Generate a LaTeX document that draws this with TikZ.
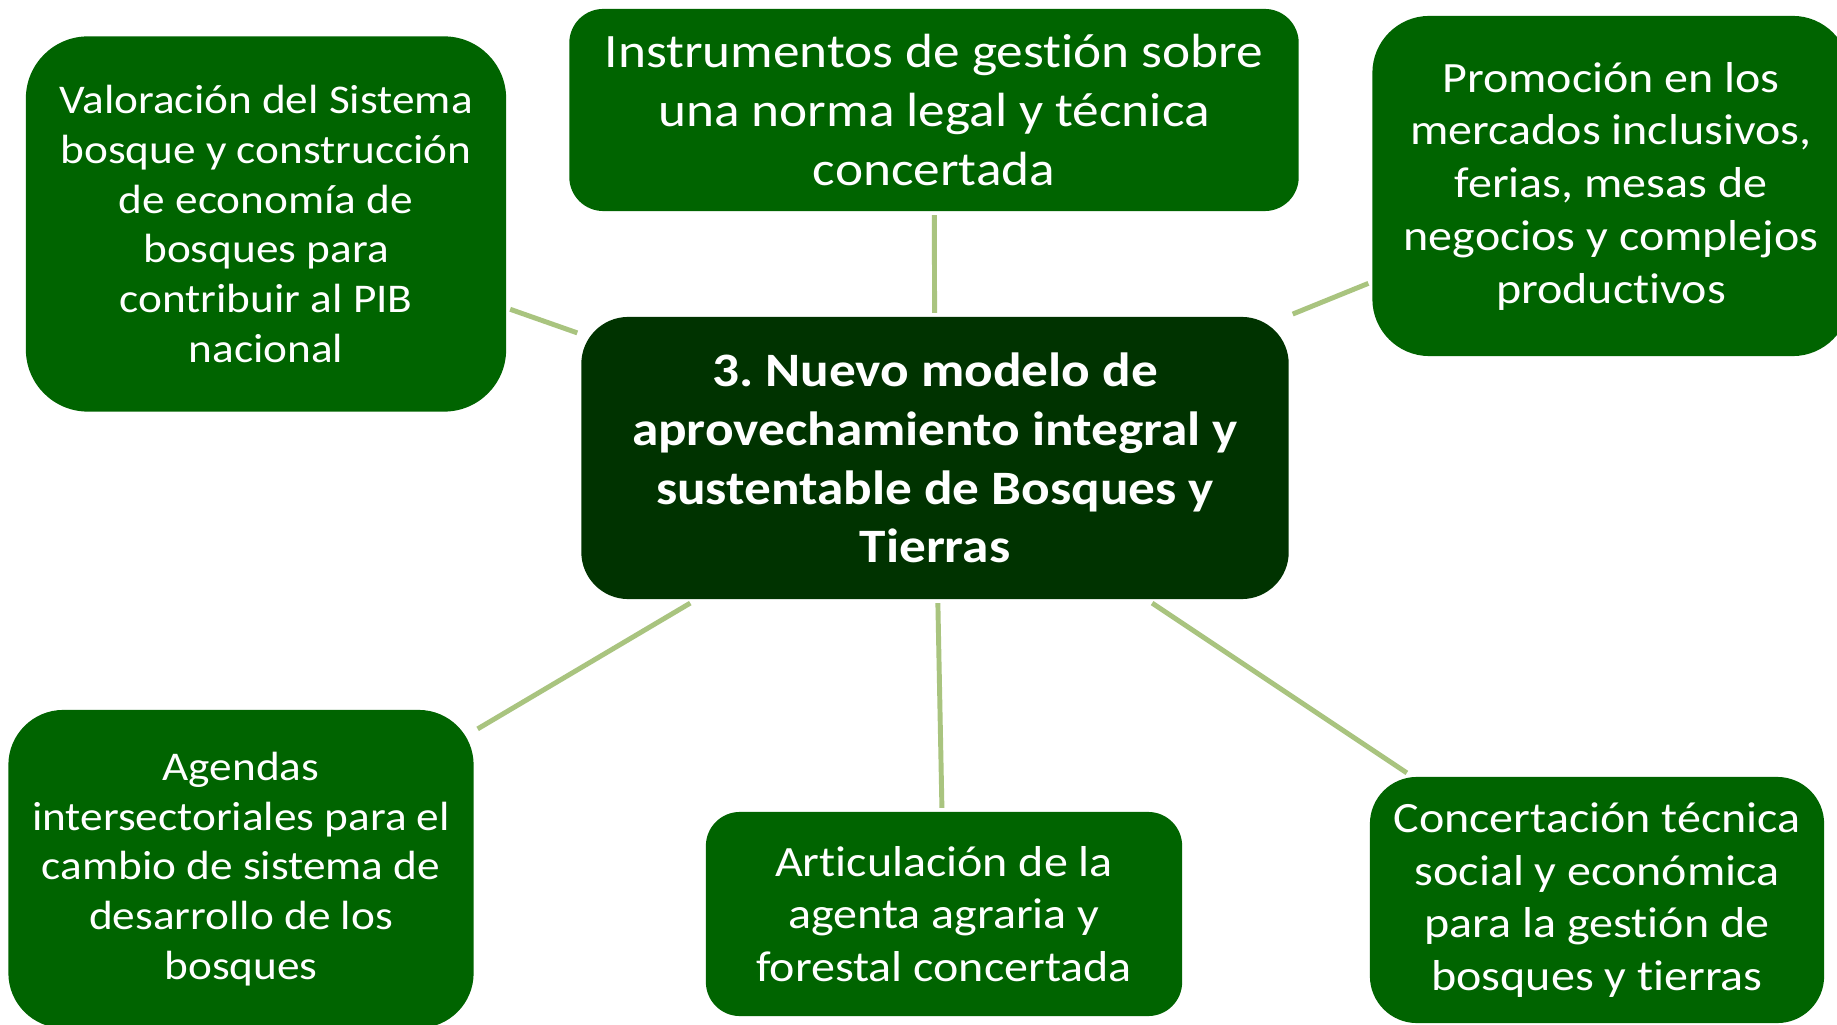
\documentclass[tikz,border=0pt]{standalone}
\usepackage{fontspec}
\setmainfont{Carlito}[FakeStretch=1.11, Ligatures=NoCommon]
\usepackage{xcolor}
\usetikzlibrary{positioning}
\definecolor{leafgreen}{RGB}{0,100,0}
\definecolor{darkleaf}{RGB}{0,51,0}
\definecolor{twig}{RGB}{169,196,127}
\frenchspacing

\begin{document}
\begin{tikzpicture}[
    x=0.01cm, y=-0.01cm,
    idea/.style={rectangle, rounded corners=0.55cm, fill=leafgreen, text=white, align=center, inner sep=0pt, outer sep=0.04cm},
    core/.style={idea, fill=darkleaf, rounded corners=0.47cm, font=\fontsize{13.65}{16.7}\selectfont\bfseries},
    small/.style={font=\fontsize{11.6}{14.15}\selectfont},
    medium/.style={font=\fontsize{12.3}{15}\selectfont},
    large/.style={font=\fontsize{13.65}{16.7}\selectfont},
    link/.style={draw=twig, line width=1.4pt}
]
    \useasboundingbox[fill=white] (0,0) rectangle (1837,1025);
    \clip (0,0) rectangle (1837,1025);

    % Central idea
    \node[core, minimum width=7.07cm, minimum height=2.82cm] (hub) at (935,458)
        {3. Nuevo modelo de\\aprovechamiento integral y\\sustentable de Bosques y\\Tierras};

    % Surrounding ideas
    \node[idea, small, minimum width=4.8cm, minimum height=3.75cm, rounded corners=0.62cm] (valor) at (266,224)
        {Valoración del Sistema\\bosque y construcción\\de economía de\\bosques para\\contribuir al PIB\\nacional};
    \node[idea, large, minimum width=7.29cm, minimum height=2.02cm, rounded corners=0.34cm] (norma) at (934,110)
        {Instrumentos de gestión sobre\\una norma legal y técnica\\concertada};
    \node[idea, medium, minimum width=4.77cm, minimum height=3.4cm, rounded corners=0.57cm] (merca) at (1611,186)
        {Promoción en los\\mercados inclusivos,\\ferias, mesas de\\negocios y complejos\\productivos};
    \node[idea, small, minimum width=4.65cm, minimum height=3.18cm, rounded corners=0.55cm] (agenda) at (241,869)
        {Agendas\\intersectoriales para el\\cambio de sistema de\\desarrollo de los\\bosques};
    \node[idea, medium, minimum width=4.76cm, minimum height=2.04cm, rounded corners=0.34cm] (agraria) at (944,914)
        {Articulación de la\\agenta agraria y\\forestal concertada};
    \node[idea, medium, minimum width=4.54cm, minimum height=2.46cm, rounded corners=0.47cm] (concer) at (1597,900)
        {Concertación técnica\\social y económica\\para la gestión de\\bosques y tierras};

    % Links
    \draw[link] (hub) -- (valor);
    \draw[link] (hub) -- (norma);
    \draw[link] (hub) -- (merca);
    \draw[link] (hub) -- (agenda);
    \draw[link] (hub) -- (agraria);
    \draw[link] (hub) -- (concer);
\end{tikzpicture}
\end{document}
